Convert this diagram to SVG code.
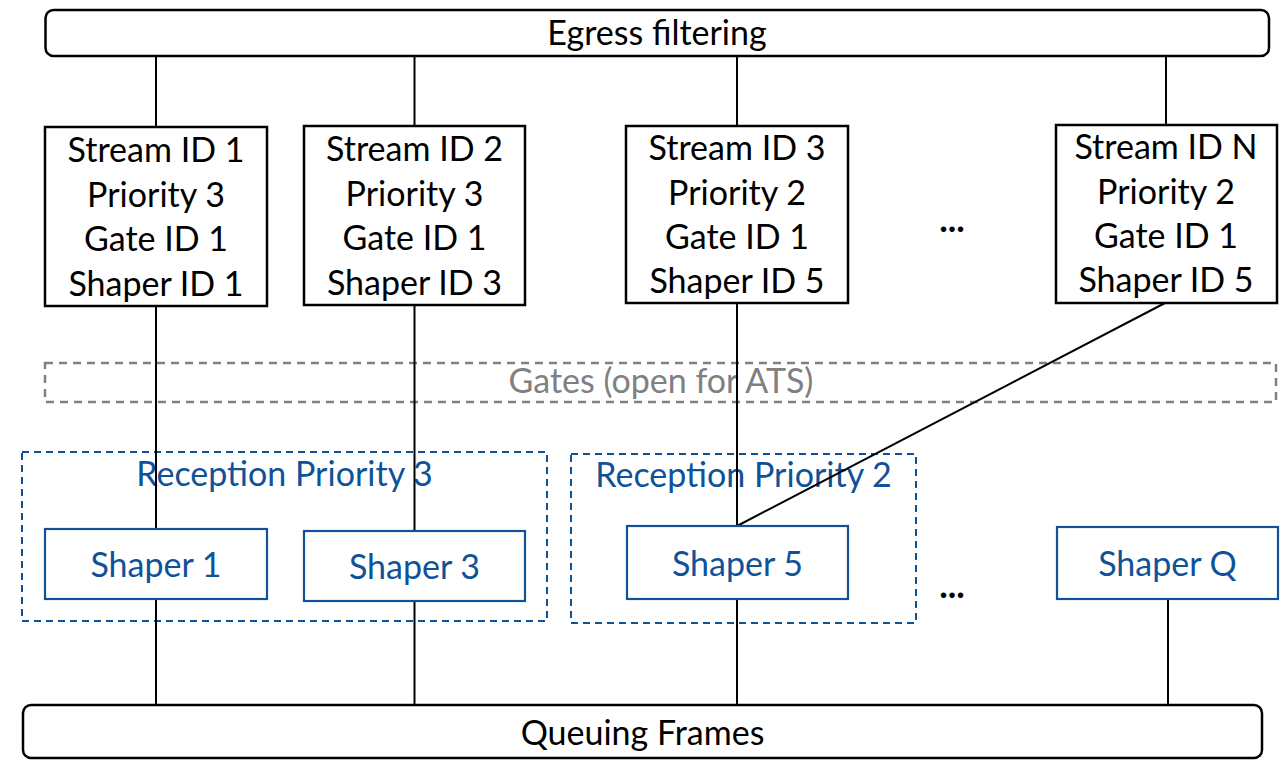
<svg xmlns="http://www.w3.org/2000/svg" width="1281" height="765" viewBox="0 0 1281 765">
<style>
text{font-family:Lato,"Open Sans","Liberation Sans",sans-serif;font-size:34px;text-anchor:middle}
.blk{fill:#000}
.blu{fill:#0F5298}
.gry{fill:#808080}
.dots{font-weight:bold;font-size:36px}
.bar{fill:#fff;stroke:#000;stroke-width:2.5}
.sbox{fill:#fff;stroke:#000;stroke-width:2.5}
.shp{fill:#fff;stroke:#0F5298;stroke-width:2.2}
.grp{fill:none;stroke:#0F5298;stroke-width:2;stroke-dasharray:7 5}
.gate{fill:none;stroke:#808080;stroke-width:2.5;stroke-dasharray:8 6}
.ln{stroke:#000;stroke-width:2;fill:none}
</style>
<rect width="1281" height="765" fill="#fff"/>
<g id="gates">
<rect class="gate" x="45" y="363" width="1231" height="39"/>
<text class="gry" x="661" y="393">Gates (open for ATS)</text>
</g>
<g id="reception-priority-3">
<rect class="grp" x="22" y="452" width="525" height="169"/>
<text class="blu" x="284.5" y="486">Reception Priority 3</text>
</g>
<g id="reception-priority-2">
<rect class="grp" x="571" y="454" width="345" height="169"/>
<text class="blu" x="743.5" y="487">Reception Priority 2</text>
</g>
<g id="connectors">
<line class="ln" x1="156" y1="56" x2="156" y2="127"/>
<line class="ln" x1="414.5" y1="56" x2="414.5" y2="126"/>
<line class="ln" x1="737" y1="56" x2="737" y2="126"/>
<line class="ln" x1="1166" y1="56" x2="1166" y2="125"/>
<line class="ln" x1="156" y1="306" x2="156" y2="529"/>
<line class="ln" x1="414.5" y1="305" x2="414.5" y2="531"/>
<line class="ln" x1="737" y1="303" x2="737" y2="526"/>
<line class="ln" x1="1165" y1="303" x2="737" y2="526"/>
<line class="ln" x1="156" y1="599" x2="156" y2="705"/>
<line class="ln" x1="414.5" y1="601" x2="414.5" y2="705"/>
<line class="ln" x1="737" y1="599" x2="737" y2="705"/>
<line class="ln" x1="1168" y1="599" x2="1168" y2="705"/>
</g>
<g id="egress-filtering">
<rect class="bar" x="45.5" y="10" width="1223.5" height="46" rx="8"/>
<text class="blk" x="657" y="45">Egress filtering</text>
</g>
<g id="stream-1">
<rect class="sbox" x="45" y="127" width="222" height="179"/>
<text class="blk" x="156" y="162">Stream ID 1</text>
<text class="blk" x="156" y="206.7">Priority 3</text>
<text class="blk" x="156" y="251.4">Gate ID 1</text>
<text class="blk" x="156" y="296">Shaper ID 1</text>
</g>
<g id="stream-2">
<rect class="sbox" x="304" y="126" width="221" height="179"/>
<text class="blk" x="414.5" y="161">Stream ID 2</text>
<text class="blk" x="414.5" y="205.7">Priority 3</text>
<text class="blk" x="414.5" y="250.4">Gate ID 1</text>
<text class="blk" x="414.5" y="295">Shaper ID 3</text>
</g>
<g id="stream-3">
<rect class="sbox" x="626" y="126" width="222" height="177"/>
<text class="blk" x="737" y="160">Stream ID 3</text>
<text class="blk" x="737" y="204.5">Priority 2</text>
<text class="blk" x="737" y="249">Gate ID 1</text>
<text class="blk" x="737" y="293">Shaper ID 5</text>
</g>
<g id="ellipsis-streams">
<text class="blk dots" x="952" y="232">...</text>
</g>
<g id="stream-n">
<rect class="sbox" x="1056" y="125" width="221" height="178"/>
<text class="blk" x="1166" y="159">Stream ID N</text>
<text class="blk" x="1166" y="203.5">Priority 2</text>
<text class="blk" x="1166" y="248">Gate ID 1</text>
<text class="blk" x="1166" y="292">Shaper ID 5</text>
</g>
<g id="shaper-1">
<rect class="shp" x="45" y="529" width="222" height="70"/>
<text class="blu" x="156" y="577">Shaper 1</text>
</g>
<g id="shaper-3">
<rect class="shp" x="304" y="531" width="221" height="70"/>
<text class="blu" x="414.5" y="579">Shaper 3</text>
</g>
<g id="shaper-5">
<rect class="shp" x="627" y="526" width="221" height="73"/>
<text class="blu" x="737.5" y="576">Shaper 5</text>
</g>
<g id="ellipsis-shapers">
<text class="blk dots" x="952" y="598">...</text>
</g>
<g id="shaper-q">
<rect class="shp" x="1057" y="527" width="221" height="72"/>
<text class="blu" x="1167.5" y="576">Shaper Q</text>
</g>
<g id="queuing-frames">
<rect class="bar" x="23" y="705" width="1239" height="53" rx="8"/>
<text class="blk" x="642.5" y="745">Queuing Frames</text>
</g>
</svg>
